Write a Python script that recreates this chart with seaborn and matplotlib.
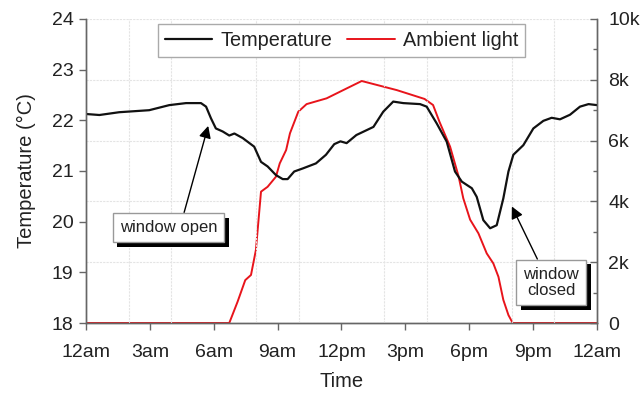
import numpy as np
import pandas as pd
import seaborn as sns
import matplotlib
matplotlib.use("Agg")
import matplotlib.pyplot as plt
import matplotlib.patheffects as pe

# ---------------- data ----------------
temp_hours = [0, 0.63, 1.56, 2.97, 3.91, 4.7, 5.4, 5.64, 5.87, 6.1, 6.42, 6.73,
              6.97, 7.36, 7.9, 8.22, 8.53, 8.92, 9.24, 9.47, 9.78, 10.18, 10.8,
              11.27, 11.66, 11.95, 12.24, 12.7, 13.5, 13.96, 14.43, 14.9, 15.69,
              16.0, 16.47, 16.94, 17.33, 17.65, 18.12, 18.35, 18.66, 18.98, 19.29,
              19.6, 19.84, 20.07, 20.54, 21.01, 21.48, 21.87, 22.26, 22.73, 23.2,
              23.6, 24.0]
temperature = [22.125, 22.105, 22.16, 22.20, 22.30, 22.34, 22.34, 22.27, 22.04,
               21.84, 21.78, 21.70, 21.74, 21.65, 21.48, 21.18, 21.09, 20.92, 20.84,
               20.84, 20.99, 21.05, 21.15, 21.32, 21.53, 21.585, 21.55, 21.71, 21.87,
               22.17, 22.37, 22.34, 22.32, 22.27, 21.94, 21.58, 20.99, 20.79, 20.66,
               20.49, 20.03, 19.87, 19.93, 20.46, 20.99, 21.32, 21.51, 21.84, 21.99,
               22.05, 22.02, 22.11, 22.27, 22.32, 22.30]

light_hours = [0, 6.73, 7.12, 7.48, 7.75, 7.98, 8.22, 8.53, 8.92, 9.1, 9.4, 9.58,
               9.97, 10.36, 11.3, 12.08, 12.95, 14.6, 15.9, 16.3, 16.6, 17.1, 17.5,
               17.72, 18.04, 18.43, 18.82, 19.13, 19.37, 19.6, 19.84, 20.04, 24]
ambient_light = [0, 0, 700, 1410, 1580, 2400, 4320, 4480, 4810, 5250, 5690, 6240,
                 6950, 7200, 7390, 7660, 7960, 7660, 7370, 7170, 6620, 5800, 4820,
                 4100, 3400, 2950, 2290, 1960, 1520, 760, 260, 0, 0]

x_ticks = [0, 3, 6, 9, 12, 15, 18, 21, 24]
x_ticklabels = ["12am", "3am", "6am", "9am", "12pm", "3pm", "6pm", "9pm", "12am"]
temp_ticks = [18, 19, 20, 21, 22, 23, 24]
light_ticks = [0, 2000, 4000, 6000, 8000, 10000]
light_ticklabels = ["0", "2k", "4k", "6k", "8k", "10k"]

# annotation anchors (hours, °C)
open_point = (5.74, 21.89)
open_text = (3.87, 19.885)
closed_point = (20.0, 20.30)
closed_text = (21.84, 18.80)

# ---------------- style ----------------
sns.set_theme(style="white")
plt.rcParams["font.family"] = ["Liberation Sans", "DejaVu Sans"]
TXT = "#222222"
SPINE = "#666666"
GRID = "#e4e4e4"

df_t = pd.DataFrame({"hour": temp_hours, "temp": temperature})
df_l = pd.DataFrame({"hour": light_hours, "light": ambient_light})

fig = plt.figure(figsize=(6.43, 3.94), dpi=100)
ax = fig.add_axes([0.1337, 0.1802, 0.7948, 0.7716])
ax2 = ax.twinx()
ax.set_zorder(ax2.get_zorder() + 1)
ax.patch.set_visible(False)

sns.lineplot(data=df_l, x="hour", y="light", ax=ax2, color="#e8141b", lw=1.4,
             estimator=None, sort=False)
sns.lineplot(data=df_t, x="hour", y="temp", ax=ax, color="#111111", lw=1.6,
             estimator=None, sort=False)

ax.set_xlim(0, 24)
ax.set_ylim(18, 24)
ax2.set_ylim(0, 10000)

ax.set_xticks(x_ticks)
ax.set_xticklabels(x_ticklabels)
ax.set_xticks(np.arange(0, 25, 2), minor=True)
ax.set_yticks(temp_ticks)
ax2.set_yticks(light_ticks)
ax2.set_yticklabels(light_ticklabels)
ax2.set_yticks(np.arange(1000, 10000, 2000), minor=True)

ax.tick_params(axis="both", which="major", labelsize=14, colors=SPINE,
               labelcolor=TXT, length=5, width=1, direction="out")
ax.tick_params(axis="x", which="minor", length=0)
ax.tick_params(axis="x", which="major", pad=10)
ax.tick_params(axis="y", which="major", pad=4)
ax.tick_params(left=True, bottom=True)
ax2.tick_params(axis="y", which="major", labelsize=14, colors=SPINE,
                labelcolor=TXT, length=5, width=1, direction="in", pad=8, right=True)
ax2.tick_params(axis="y", which="minor", length=3, width=1, direction="in",
                colors=SPINE, right=True)

ax.set_xlabel("Time", fontsize=14.5, color=TXT, labelpad=8)
ax.set_ylabel("Temperature (°C)", fontsize=14.5, color=TXT, labelpad=11)
ax2.set_ylabel("")

for a in (ax, ax2):
    a.spines["top"].set_visible(False)
    for s in ("left", "right", "bottom"):
        a.spines[s].set_color(SPINE)
        a.spines[s].set_linewidth(1.0)

ax.grid(False)
ax2.grid(False)
ax.grid(which="minor", axis="x", color=GRID, lw=0.8, ls=(0, (2, 1)))
ax2.grid(which="major", axis="y", color=GRID, lw=0.8, ls=(0, (2, 1)))

# legend
handles = [ax.get_lines()[0], ax2.get_lines()[0]]
leg = ax.legend(handles, ["Temperature", "Ambient light"], loc="upper center",
                bbox_to_anchor=(0.5, 0.984), ncol=2, fontsize=14.3, frameon=True,
                fancybox=False, edgecolor="#aaaaaa", framealpha=1,
                handlelength=2.4, handletextpad=0.4, columnspacing=0.75,
                borderpad=0.35, borderaxespad=0)
leg.get_frame().set_linewidth(1.0)
for t in leg.get_texts():
    t.set_color(TXT)

# annotations
shadow = [pe.withSimplePatchShadow(offset=(3.5, -3.5), shadow_rgbFace="black", alpha=1.0)]
bbox_kw = dict(boxstyle="square,pad=0.42", fc="white", ec="#999999", lw=1.0)
a1 = ax.annotate("window open", xy=open_point, xytext=open_text,
                 fontsize=12, color=TXT, ha="center", va="center",
                 bbox=bbox_kw,
                 arrowprops=dict(arrowstyle="-|>", color="black", lw=1.0,
                                 mutation_scale=18, relpos=(0.64, 1.0),
                                 shrinkA=0, shrinkB=0))
a1.get_bbox_patch().set_path_effects(shadow)
a2 = ax.annotate("window\nclosed", xy=closed_point, xytext=closed_text,
                 fontsize=12, color=TXT, ha="center", va="center",
                 linespacing=1.15, bbox=bbox_kw,
                 arrowprops=dict(arrowstyle="-|>", color="black", lw=1.0,
                                 mutation_scale=18, relpos=(0.32, 1.0),
                                 shrinkA=0, shrinkB=0))
a2.get_bbox_patch().set_path_effects(shadow)

fig.savefig("out.png", dpi=100)
